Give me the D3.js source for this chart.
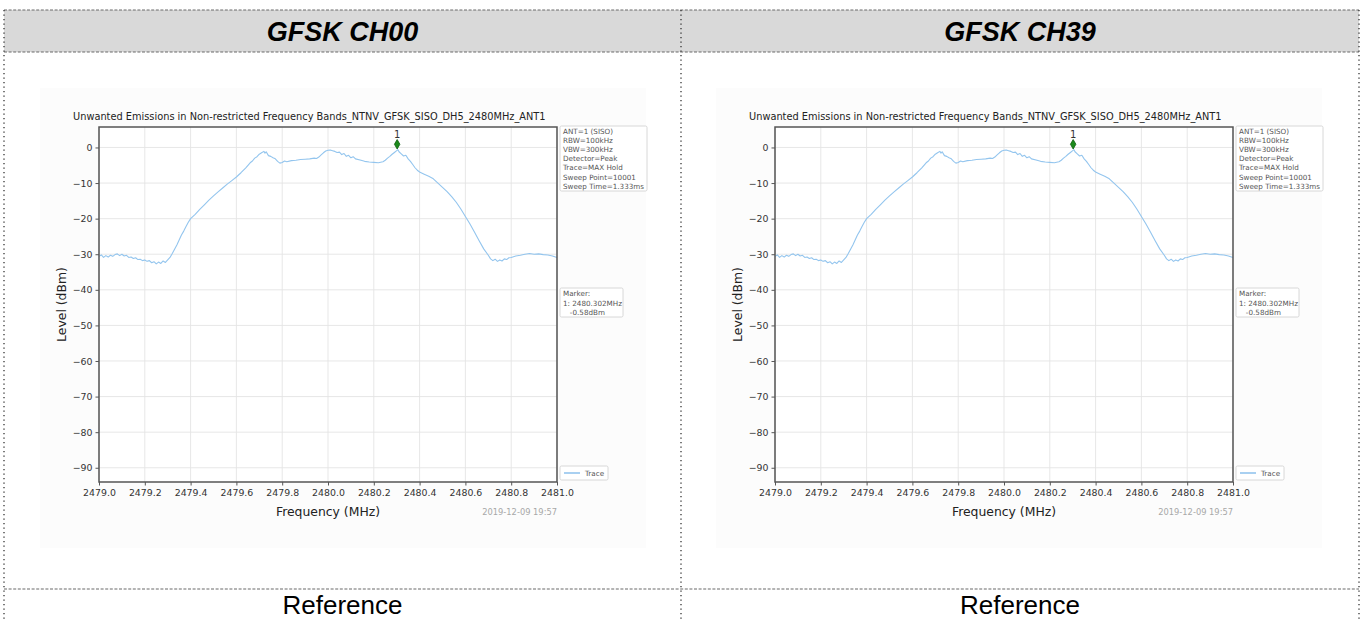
<!DOCTYPE html>
<html>
<head>
<meta charset="utf-8">
<script src="https://cdn.jsdelivr.net/npm/d3@7"></script>
<style>
  html, body { margin: 0; padding: 0; background: #ffffff; }
  svg { display: block; }
  text { white-space: pre; }
</style>
</head>
<body>
<svg id="chart" width="1365" height="619"></svg>
<script>
// ---------------- data ----------------
const panelTitles = ["GFSK CH00", "GFSK CH39"];
const footerLabels = ["Reference", "Reference"];
const plotTitle = "Unwanted Emissions in Non-restricted Frequency Bands_NTNV_GFSK_SISO_DH5_2480MHz_ANT1";
const xAxisLabel = "Frequency (MHz)";
const yAxisLabel = "Level (dBm)";
const timestamp = "2019-12-09 19:57";
const xDomain = [2479.0, 2481.0];
const yDomain = [-94, 5.75];
const xTickValues = [2479.0, 2479.2, 2479.4, 2479.6, 2479.8, 2480.0, 2480.2, 2480.4, 2480.6, 2480.8, 2481.0];
const yTickValues = [0, -10, -20, -30, -40, -50, -60, -70, -80, -90];
const infoLines = ["ANT=1 (SISO)", "RBW=100kHz", "VBW=300kHz", "Detector=Peak", "Trace=MAX Hold", "Sweep Point=10001", "Sweep Time=1.333ms"];
const markerLines = ["Marker:", "1: 2480.302MHz", "   -0.58dBm"];
const legendLabels = ["Trace"];
const markerFreq = [2480.302];
const markerShownLevel = [0.9];
const markerIds = ["1"];

const traceFreq = [
  2479.000, 2479.010, 2479.020, 2479.030, 2479.040, 2479.050, 2479.060, 2479.070, 2479.080, 2479.090,
  2479.100, 2479.110, 2479.120, 2479.130, 2479.140, 2479.150, 2479.160, 2479.170, 2479.180, 2479.190,
  2479.200, 2479.210, 2479.220, 2479.230, 2479.240, 2479.250, 2479.260, 2479.270, 2479.280, 2479.290,
  2479.300, 2479.310, 2479.320, 2479.330, 2479.340, 2479.350, 2479.360, 2479.370, 2479.380, 2479.390,
  2479.400, 2479.420, 2479.440, 2479.460, 2479.480, 2479.500, 2479.520, 2479.540, 2479.560, 2479.580,
  2479.600, 2479.620, 2479.640, 2479.660, 2479.670, 2479.680, 2479.690, 2479.700, 2479.710, 2479.720,
  2479.725, 2479.730, 2479.740, 2479.750, 2479.760, 2479.770, 2479.780, 2479.790, 2479.800, 2479.810,
  2479.820, 2479.840, 2479.860, 2479.880, 2479.900, 2479.920, 2479.940, 2479.950, 2479.960, 2479.970,
  2479.980, 2479.990, 2480.000, 2480.010, 2480.020, 2480.030, 2480.040, 2480.050, 2480.060, 2480.070,
  2480.080, 2480.090, 2480.100, 2480.110, 2480.120, 2480.140, 2480.160, 2480.180, 2480.200, 2480.220,
  2480.240, 2480.250, 2480.260, 2480.270, 2480.280, 2480.290, 2480.300, 2480.305, 2480.310, 2480.320,
  2480.330, 2480.340, 2480.350, 2480.360, 2480.370, 2480.380, 2480.390, 2480.400, 2480.420, 2480.440,
  2480.460, 2480.480, 2480.500, 2480.520, 2480.540, 2480.560, 2480.580, 2480.600, 2480.620, 2480.640,
  2480.660, 2480.680, 2480.700, 2480.710, 2480.720, 2480.730, 2480.740, 2480.750, 2480.760, 2480.770,
  2480.780, 2480.790, 2480.800, 2480.820, 2480.840, 2480.860, 2480.880, 2480.900, 2480.920, 2480.940,
  2480.960, 2480.980, 2481.000
];
const traceLevel = [
  -30.6, -30.2, -30.9, -30.4, -30.8, -30.3, -30.6, -30.1, -29.9, -30.4,
  -30.0, -30.5, -30.3, -30.9, -30.8, -31.2, -31.0, -31.5, -31.4, -31.8,
  -31.6, -32.0, -31.8, -32.4, -32.1, -32.7, -32.2, -32.6, -31.9, -32.3,
  -31.6, -30.9, -29.8, -28.6, -27.4, -26.0, -24.6, -23.5, -22.2, -21.0,
  -20.0, -18.8, -17.4, -16.1, -14.8, -13.6, -12.5, -11.4, -10.3, -9.3,
  -8.3, -7.1, -5.8, -4.3, -3.8, -3.0, -2.6, -1.9, -1.5, -1.1,
  -1.6, -1.2, -2.3, -2.5, -2.9, -3.2, -3.9, -4.4, -4.2, -3.8,
  -4.0, -3.7, -3.6, -3.4, -3.3, -3.2, -3.0, -3.1, -2.7, -2.1,
  -1.5, -1.0, -0.8, -0.7, -0.9, -1.1, -1.4, -1.3, -2.0, -1.7,
  -2.5, -2.2, -2.9, -2.6, -3.2, -3.5, -3.9, -4.1, -4.2, -4.3,
  -4.0, -3.6, -3.0, -2.5, -1.9, -1.4, -0.9, -0.6, -1.2, -1.8,
  -2.4, -2.2, -3.2, -3.9, -4.8, -5.7, -6.4, -6.9, -7.5, -8.1,
  -8.8, -10.0, -11.2, -12.4, -13.8, -15.4, -17.3, -19.4, -21.5, -23.8,
  -26.2, -28.5, -30.3, -31.3, -31.8, -31.4, -32.0, -31.6, -31.9, -31.3,
  -31.5, -31.0, -30.9, -30.5, -30.3, -30.0, -29.8, -30.0, -29.9, -30.1,
  -30.2, -30.5, -30.9
];

// ---------------- drawing ----------------
const svg = d3.select("#chart");
const W = 1365, H = 619;
svg.append("rect").attr("width", W).attr("height", H).attr("fill", "#ffffff");

// table geometry
const colEdges = [4, 681, 1359];
const headerTop = 10, headerBottom = 52, footerLine = 589;

svg.append("rect")
  .attr("x", colEdges[0]).attr("y", headerTop)
  .attr("width", colEdges[2] - colEdges[0]).attr("height", headerBottom - headerTop)
  .attr("fill", "#d9d9d9");

const mpl = "DejaVu Sans, sans-serif";
const panelDx = [0, 676];

function drawPanel(g) {
  const x = d3.scaleLinear().domain(xDomain).range([99, 557]);
  const y = d3.scaleLinear().domain(yDomain).range([482, 127]);

  // faint figure background
  g.append("rect").attr("x", 40).attr("y", 88).attr("width", 606).attr("height", 460)
    .attr("fill", "#fcfcfc");
  g.append("rect").attr("x", x.range()[0]).attr("y", y.range()[1])
    .attr("width", x.range()[1] - x.range()[0]).attr("height", y.range()[0] - y.range()[1])
    .attr("fill", "#ffffff");

  // title
  g.append("text").attr("x", 73).attr("y", 119.5)
    .attr("font-family", mpl).attr("font-size", 9.8).attr("fill", "#222")
    .text(plotTitle);

  // grid
  g.append("g").selectAll("line").data(xTickValues).join("line")
    .attr("x1", d => x(d)).attr("x2", d => x(d))
    .attr("y1", y.range()[1]).attr("y2", y.range()[0])
    .attr("stroke", "#e4e4e4").attr("stroke-width", 0.9);
  g.append("g").selectAll("line").data(yTickValues).join("line")
    .attr("y1", d => y(d)).attr("y2", d => y(d))
    .attr("x1", x.range()[0]).attr("x2", x.range()[1])
    .attr("stroke", "#e4e4e4").attr("stroke-width", 0.9);

  // trace
  const pts = traceFreq.map((f, i) => [f, traceLevel[i]]);
  g.append("path").datum(pts)
    .attr("d", d3.line().x(d => x(d[0])).y(d => y(d[1])))
    .attr("fill", "none").attr("stroke", "#93c5ee").attr("stroke-width", 1.1)
    .attr("stroke-linejoin", "round");

  // marker
  markerFreq.forEach((f, i) => {
    g.append("path")
      .attr("d", d3.symbol().type(d3.symbolDiamond).size(26)())
      .attr("transform", `translate(${x(f)},${y(markerShownLevel[i])})`)
      .attr("fill", "#1b8a1b").attr("stroke", "#0d5e0d").attr("stroke-width", 0.8);
    g.append("text").attr("x", x(f)).attr("y", y(markerShownLevel[i]) - 6)
      .attr("text-anchor", "middle").attr("font-family", mpl).attr("font-size", 10)
      .attr("fill", "#333").text(markerIds[i]);
  });

  // axes
  const xa = g.append("g").attr("transform", `translate(0,${y.range()[0]})`)
    .call(d3.axisBottom(x).tickValues(xTickValues).tickFormat(d3.format(".1f")).tickSize(3.5).tickPadding(3.5));
  const ya = g.append("g").attr("transform", `translate(${x.range()[0]},0)`)
    .call(d3.axisLeft(y).tickValues(yTickValues).tickSize(3.5).tickPadding(3));
  [xa, ya].forEach(a => {
    a.select(".domain").remove();
    a.selectAll(".tick line").attr("stroke", "#444").attr("stroke-width", 0.9);
    a.selectAll(".tick text").attr("font-family", mpl).attr("font-size", 9.4).attr("fill", "#333");
  });

  // spines
  g.append("rect").attr("x", x.range()[0]).attr("y", y.range()[1])
    .attr("width", x.range()[1] - x.range()[0]).attr("height", y.range()[0] - y.range()[1])
    .attr("fill", "none").attr("stroke", "#555").attr("stroke-width", 1.5);

  // axis labels
  g.append("text").attr("x", (x.range()[0] + x.range()[1]) / 2).attr("y", 515.5)
    .attr("text-anchor", "middle").attr("font-family", mpl).attr("font-size", 12.4)
    .attr("fill", "#222").text(xAxisLabel);
  g.append("text").attr("transform", `translate(65.5,${(y.range()[0] + y.range()[1]) / 2}) rotate(-90)`)
    .attr("text-anchor", "middle").attr("font-family", mpl).attr("font-size", 12.4)
    .attr("fill", "#222").text(yAxisLabel);
  g.append("text").attr("x", x.range()[1]).attr("y", 515)
    .attr("text-anchor", "end").attr("font-family", mpl).attr("font-size", 8.3)
    .attr("fill", "#a8a8a8").text(timestamp);

  // info box
  g.append("rect").attr("x", 560).attr("y", 126).attr("width", 87).attr("height", 65)
    .attr("rx", 1.5).attr("fill", "#ffffff").attr("stroke", "#d4d4d4").attr("stroke-width", 0.9);
  g.append("g").selectAll("text").data(infoLines).join("text")
    .attr("x", 563).attr("y", (d, i) => 134 + i * 9.1)
    .attr("font-family", mpl).attr("font-size", 7.2).attr("fill", "#555").text(d => d);

  // marker box
  g.append("rect").attr("x", 560).attr("y", 288).attr("width", 63).attr("height", 29)
    .attr("rx", 1.5).attr("fill", "#ffffff").attr("stroke", "#d4d4d4").attr("stroke-width", 0.9);
  g.append("g").selectAll("text").data(markerLines).join("text")
    .attr("x", 563).attr("y", (d, i) => 296 + i * 9.5)
    .attr("font-family", mpl).attr("font-size", 7.2).attr("fill", "#555").text(d => d);

  // legend
  g.append("rect").attr("x", 560).attr("y", 466).attr("width", 48).attr("height", 14)
    .attr("rx", 1.5).attr("fill", "#ffffff").attr("stroke", "#d4d4d4").attr("stroke-width", 0.9);
  legendLabels.forEach((lab, i) => {
    g.append("line").attr("x1", 564).attr("x2", 580).attr("y1", 473 + i * 10).attr("y2", 473 + i * 10)
      .attr("stroke", "#93c5ee").attr("stroke-width", 1.6);
    g.append("text").attr("x", 585).attr("y", 475.5 + i * 10)
      .attr("font-family", mpl).attr("font-size", 7.2).attr("fill", "#555").text(lab);
  });
}

panelDx.forEach((dx, i) => {
  const g = svg.append("g").attr("transform", `translate(${dx},0)`);
  drawPanel(g);
  const cx = (colEdges[i] + colEdges[i + 1]) / 2;
  svg.append("text").attr("x", cx).attr("y", 41)
    .attr("text-anchor", "middle").attr("font-family", "Liberation Sans, Arial, sans-serif")
    .attr("font-weight", "bold").attr("font-style", "italic").attr("font-size", 27)
    .attr("fill", "#000").text(panelTitles[i]);
  svg.append("text").attr("x", cx).attr("y", 614)
    .attr("text-anchor", "middle").attr("font-family", "Liberation Sans, Arial, sans-serif")
    .attr("font-size", 26).attr("fill", "#000").text(footerLabels[i]);
});

// table borders
[headerTop, headerBottom, footerLine].forEach(yy => {
  svg.append("line").attr("x1", colEdges[0]).attr("x2", colEdges[2]).attr("y1", yy).attr("y2", yy)
    .attr("stroke", "#6a6a6a").attr("stroke-width", 1.2).attr("stroke-dasharray", "3,1.6");
});
colEdges.forEach(xx => {
  svg.append("line").attr("x1", xx).attr("x2", xx).attr("y1", headerTop).attr("y2", H)
    .attr("stroke", "#333").attr("stroke-width", 1.3).attr("stroke-dasharray", "1.3,3.2");
});
</script>
</body>
</html>
